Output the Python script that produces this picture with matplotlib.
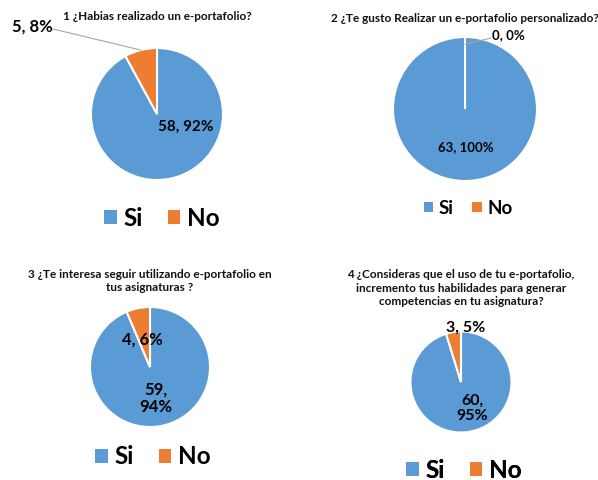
import numpy as np
import matplotlib.pyplot as plt

plt.rcParams['font.family'] = ['Lato', 'DejaVu Sans']
plt.rcParams['font.weight'] = 'bold'

# Data
titles = ['1 ¿Habias realizado un e-portafolio?',
          '2 ¿Te gusto Realizar un e-portafolio personalizado?',
          '3 ¿Te interesa seguir utilizando e-portafolio en\ntus asignaturas ?',
          '4 ¿Consideras que el uso de tu e-portafolio,\nincremento tus habilidades para generar\ncompetencias en tu asignatura?']
categories = ['Si', 'No']
si_counts = [58, 63, 59, 60]
no_counts = [5, 0, 4, 3]

colors = ['#5B9BD5', '#ED7D31']
W, H = 598, 480

# Layout (pixel coords, y from top)
centers = [(157, 114), (465, 109), (150, 367), (461, 382)]
radii = [66, 72, 60, 50.5]
title_pos = [(157, 16), (465, 18), (150, 281), (461, 288)]
si_lab = [(186, 127), (466, 147), (156, 398), (472, 408)]
no_lab = [(32, 27), (508, 35), (142, 340), (466, 328)]
wrap = [False, False, True, True]
lab_size = [11, 9.5, 12, 11.5]
leader = [True, True, False, False]
leg_pos = [(162, 218), (468, 208), (153, 457), (464, 470)]
leg_size = [17.5, 13.5, 17.5, 17.5]


def Y(py):
    return H - py


fig = plt.figure(figsize=(W / 100, H / 100), dpi=100)
ax = fig.add_axes([0, 0, 1, 1])

for i in range(4):
    vals = [si_counts[i], no_counts[i]]
    total = sum(vals)
    cx, cy = centers[i]
    r = radii[i]
    wedges, _ = ax.pie(vals, colors=colors, startangle=90, counterclock=False,
                       center=(cx, Y(cy)), radius=r, frame=True,
                       wedgeprops=dict(edgecolor='white', linewidth=1.5))

    ax.text(title_pos[i][0], Y(title_pos[i][1]), titles[i], ha='center', va='center',
            fontsize=8.5, fontweight='bold', color='#111111', linespacing=1.3)

    sep = ',\n' if wrap[i] else ', '
    pct = [round(v / total * 100) for v in vals]
    ax.text(si_lab[i][0], Y(si_lab[i][1]), f'{vals[0]}{sep}{pct[0]}%', ha='center',
            va='center', fontsize=lab_size[i], fontweight='bold', color='black',
            linespacing=1.1)
    ax.text(no_lab[i][0], Y(no_lab[i][1]), f'{vals[1]}, {pct[1]}%', ha='center',
            va='center', fontsize=lab_size[i] + (1 if i == 0 else 0), fontweight='bold',
            color='black')

    if leader[i]:
        w = wedges[1]
        ang = np.deg2rad((w.theta1 + w.theta2) / 2)
        rr = r if vals[1] > 0 else r * 0.9
        px, py = cx + rr * np.cos(ang), Y(cy) + rr * np.sin(ang)
        if i == 0:
            sx, sy = no_lab[i][0] + 21, Y(no_lab[i][1] + 2)
        else:
            sx, sy = no_lab[i][0] - 17, Y(no_lab[i][1] + 3)
        ax.plot([sx, px], [sy, py], color='#a6a6a6', lw=0.8)

    leg = ax.legend(wedges, categories, loc='center', bbox_to_anchor=(leg_pos[i][0], Y(leg_pos[i][1])),
                    bbox_transform=ax.transData, ncol=2, frameon=False,
                    prop=dict(size=leg_size[i], weight='bold'),
                    handlelength=0.5, handleheight=0.5, handletextpad=0.3,
                    columnspacing=1.0, borderpad=0)
    for h in leg.legend_handles:
        h.set_edgecolor('none')
    ax.add_artist(leg)

ax.set_xlim(0, W)
ax.set_ylim(0, H)
ax.set_aspect('equal')
ax.axis('off')

fig.savefig('out.png', dpi=100)
